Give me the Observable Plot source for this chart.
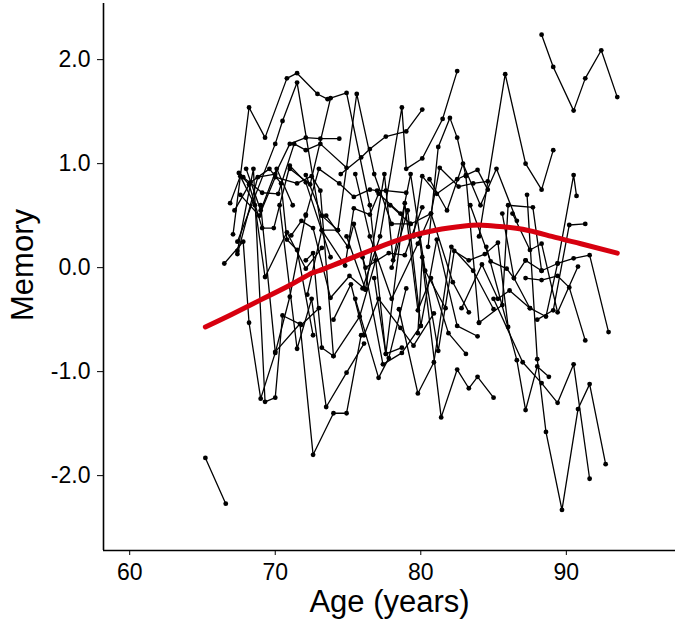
<!DOCTYPE html>
<html><head><meta charset="utf-8">
<script src="https://cdn.jsdelivr.net/npm/d3@7"></script>
<script src="https://cdn.jsdelivr.net/npm/@observablehq/plot@0.6"></script>
<style>body{margin:0;background:#fff;}</style>
</head><body><div id="chart"></div>
<script>
const subjectAges = [
 [65.2,66.6],
 [88.3,89.1,90.5,91.3,92.4,93.5],
 [67.1,68.2,69.3,70.8,71.5,72.9,73.6],
 [67.4,70.0,70.5,71.5,73.2,74.3],
 [67.4,68.8,70.0,71.0,72.1,73.1,74.4],
 [67.8,69.1,70.2,71.3,72.1,73.1,74.9],
 [67.5,68.2,69.1,69.9,71.0,72.1,73.8],
 [66.9,67.6,68.6,69.3,70.8,72.1,73.2],
 [67.2,68.3,69.6,70.4,70.8,71.5,72.6],
 [67.6,68.9,70.0,71.5,72.5,73.1,74.0],
 [66.5,67.8,68.2,69.0,70.0,71.0,72.1],
 [67.4,68.5,69.3,70.0,70.5,71.8,73.0],
 [69.0,70.0,71.7,72.6,74.0,74.9,75.9],
 [70.3,71.5,72.5,73.5,74.9,76.1],
 [71.1,71.8,72.6,73.8,75.1,76.2],
 [72.1,72.6,73.2,74.0,75.8,76.9],
 [71.0,72.4,73.8,74.9,76.5,77.6,78.7],
 [72.1,73.2,74.3,75.6,76.8,78.0,79.3],
 [72.1,73.0,74.4,75.4,76.5,77.0,77.6,79.0],
 [72.2,73.2,74.8,75.4,76.5,77.1,78.6],
 [73.5,75.0,75.4,76.2,77.8,78.9,80.1],
 [74.0,75.2,76.1,77.1,78.6,79.5,80.9],
 [74.5,75.9,76.5,77.6,79.0,80.1],
 [76.0,77.2,78.7,79.0,80.1,81.5,82.5],
 [74.9,76.2,77.5,78.1,79.3,80.3,81.7],
 [75.5,76.5,78.0,79.8,80.7,82.2,83.3],
 [76.8,77.6,78.9,79.8,80.7,81.9,83.1],
 [78.0,79.1,80.0,81.1,82.5,83.9],
 [77.9,79.3,80.7,81.3,82.6,83.6,84.6],
 [79.8,80.1,81.2,82.3,83.3,84.4,85.3,86.0],
 [79.5,80.1,81.1,82.5,83.1,83.9,84.6],
 [78.5,79.8,80.9,82.1,83.6,85.0],
 [79.9,81.4,82.5,83.3,83.9,85.0],
 [80.5,81.2,82.0,82.5,83.1,84.0],
 [84.0,85.8,87.2,88.3,89.1],
 [84.5,86.6,87.2,88.0,88.8],
 [85.0,87.0,88.3,89.4,90.5,91.6],
 [87.3,88.0,88.6,89.7,90.8,91.6,92.7],
 [87.2,88.3,89.4,90.5,91.6,92.9],
 [87.2,88.3,89.4,90.2,91.3],
 [86.3,87.5,88.3,89.4,90.8],
 [85.6,86.4,87.5,88.6,89.4,90.5,90.7],
 [88.0,89.1,90.2,91.3],
 [82.8,84.2,85.3,86.1,87.5],
 [83.4,84.8,85.9,86.4,87.2],
 [84.0,85.6,86.0,87.7,88.3],
 [75.5,77.1,77.8,79.0],
 [76.0,77.4,78.7,80.0],
 [80.6,81.8,82.9,84.1,85.2,86.6],
 [68.0,69.0,70.1,71.2]
];
const subjectMemory = [
 [-1.83,-2.27],
 [2.24,1.93,1.51,1.82,2.09,1.64],
 [0.32,1.54,1.25,1.82,1.87,1.67,1.62],
 [0.25,1.19,1.41,1.78,0.36,0.36],
 [0.13,0.87,0.90,1.19,1.25,1.24,1.24],
 [0.87,0.72,0.71,1.19,1.13,1.19,0.96],
 [0.91,0.80,0.38,0.38,0.98,0.82,0.10],
 [0.62,0.88,0.60,-0.09,0.34,-0.01,0.19],
 [0.55,0.82,0.95,0.81,0.27,0.17,-0.65],
 [0.70,0.50,0.87,0.81,0.88,0.74,-0.85],
 [0.04,0.25,-0.53,-1.26,-0.82,-0.28,0.51],
 [0.16,0.95,-1.29,-1.25,-0.46,-0.55,-0.39],
 [0.60,-0.81,-0.54,-1.80,-1.40,-1.40,-0.65],
 [0.60,-0.78,-0.30,-1.34,-1.01,-0.73],
 [0.31,0.45,0.38,-0.29,-0.08,-0.21],
 [0.07,0.14,-0.77,-0.85,-0.47,0.07],
 [0.95,0.80,1.63,1.68,0.60,-0.83,-0.77],
 [0.89,0.50,0.36,1.67,0.90,0.42,0.42],
 [0.50,0.95,0.81,0.68,0.75,0.74,0.74,0.72],
 [-0.26,0.36,0.02,0.57,0.51,0.71,0.52],
 [0.50,0.20,0.42,0.00,0.14,0.12,0.58],
 [-0.50,-0.16,-0.65,-0.30,-0.58,-0.75,-0.44],
 [0.90,1.06,1.14,1.26,1.31,1.52],
 [-0.20,0.30,1.54,0.95,1.05,1.43,1.89],
 [0.30,-0.21,0.90,0.07,0.90,-0.03,-0.39],
 [0.90,0.30,-0.30,0.23,0.52,-0.14,-0.43],
 [-0.10,-0.83,0.62,-0.41,-0.10,-0.63,-0.83],
 [0.00,0.55,-0.56,0.27,-0.56,-0.66],
 [0.60,0.42,0.52,0.96,0.78,0.81,0.83],
 [-0.63,0.10,-0.80,0.16,0.07,0.13,0.24,-0.57],
 [0.30,0.88,0.71,0.85,0.89,0.94,0.75],
 [-0.40,-1.21,-0.91,0.20,-0.03,-0.40],
 [0.30,-1.44,-0.98,-1.16,-1.05,-1.25],
 [0.20,1.16,1.44,1.25,0.88,-0.53],
 [0.30,1.86,1.00,0.75,1.13],
 [0.20,-0.89,-1.37,-0.95,-1.05],
 [-0.30,-0.91,-1.11,-1.30,-0.93,-2.03],
 [0.70,-0.88,-1.58,-2.33,-1.36,-1.12,-1.89],
 [0.07,-0.03,0.04,0.09,0.12,-0.62],
 [-0.10,-0.12,-0.08,-0.19,-0.70],
 [0.52,0.17,0.23,-0.43,0.01],
 [0.52,-0.10,-0.39,-0.47,0.04,0.89,0.69],
 [-0.50,-0.41,0.41,0.42],
 [-0.39,0.03,-0.30,-0.22,-0.39],
 [0.60,0.06,-0.01,-0.10,0.07],
 [-0.53,-0.36,0.60,0.58,-0.03],
 [-0.30,-1.06,-0.87,-0.20],
 [0.10,-0.93,-0.82,-0.56],
 [0.85,0.55,1.00,0.60,0.95,0.45],
 [0.95,0.55,0.95,0.60]
];
const trendAge = [65.2,67,69,71,72.4,73,75,77,79,81,83,84,85,87,89,91,93.5];
const trendMemory = [-0.57,-0.45,-0.31,-0.17,-0.06,-0.03,0.08,0.19,0.29,0.36,0.40,0.41,0.40,0.37,0.30,0.23,0.14];
const xTicks = [60,70,80,90];
const yTicks = [-2,-1,0,1,2];
const xLabel = "Age (years)";
const yLabel = "Memory";

const obs = subjectAges.flatMap((ages,i)=>ages.map((a,j)=>({id:i, age:a, memory:subjectMemory[i][j]})));
const trend = trendAge.map((a,i)=>({age:a, memory:trendMemory[i]}));
const xDomain = [58.2,97.5], yDomain = [-2.72,2.54];

const chart = Plot.plot({
  width:677, height:634,
  marginLeft:103, marginRight:2, marginTop:3, marginBottom:84,
  style:{fontFamily:"'Liberation Sans', Arial, sans-serif", fontSize:"23px", background:"white", color:"black"},
  x:{domain:xDomain},
  y:{domain:yDomain},
  marks:[
    Plot.line(obs,{x:"age",y:"memory",z:"id",stroke:"black",strokeWidth:1.3}),
    Plot.dot(obs,{x:"age",y:"memory",r:2.4,fill:"black",stroke:"none"}),
    Plot.line(trend,{x:"age",y:"memory",stroke:"#d7000f",strokeWidth:5,curve:"natural"}),
    Plot.axisX({ticks:xTicks, tickFormat:d=>String(d), fontSize:23, tickSize:5, tickPadding:8, label:null}),
    Plot.axisY({ticks:yTicks, tickFormat:d=>d.toFixed(1), fontSize:23, tickSize:6, tickPadding:7, label:null}),
    Plot.ruleX([xDomain[0]],{strokeWidth:1.6}),
    Plot.ruleY([yDomain[0]],{strokeWidth:1.6}),
    Plot.text([xLabel],{frameAnchor:"bottom", dy:61, fontSize:31}),
    Plot.text([yLabel],{frameAnchor:"left", textAnchor:"middle", dx:-80, dy:-12, rotate:-90, fontSize:31})
  ]
});
document.getElementById("chart").appendChild(chart);
</script>
</body></html>
